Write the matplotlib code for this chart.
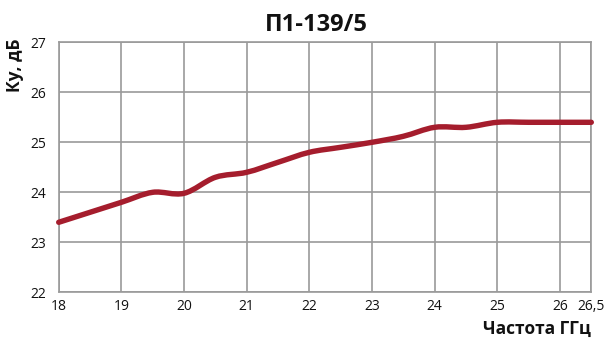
import matplotlib
matplotlib.use("Agg")
import matplotlib.pyplot as plt
from matplotlib.path import Path
from matplotlib.patches import PathPatch

# Gain vs frequency for П1-139/5
freq_ghz = [18, 18.5, 19, 19.5, 20, 20.5, 21, 21.5, 22, 22.5, 23, 23.5, 24, 24.5, 25, 25.5, 26, 26.5]
gain_db = [23.4, 23.6, 23.8, 24.0, 23.98, 24.3, 24.4, 24.6, 24.8, 24.9, 25.0, 25.12, 25.3, 25.3, 25.4, 25.4, 25.4, 25.4]

x_ticks = [18, 19, 20, 21, 22, 23, 24, 25, 26, 26.5]
x_tick_labels = ["18", "19", "20", "21", "22", "23", "24", "25", "26", "26,5"]
y_ticks = [22, 23, 24, 25, 26, 27]
y_tick_labels = ["22", "23", "24", "25", "26", "27"]

plt.rcParams["font.family"] = ["Open Sans", "DejaVu Sans"]
heading_font = ["Liberation Sans Narrow", "Open Sans", "DejaVu Sans"]


def smooth_path(xs, ys, tension=1 / 6):
    """Catmull-Rom spline through the points, expressed as cubic Bezier segments."""
    pts = list(zip(xs, ys))
    verts = [pts[0]]
    codes = [Path.MOVETO]
    n = len(pts)
    for i in range(n - 1):
        p0 = pts[i - 1] if i > 0 else pts[i]
        p1 = pts[i]
        p2 = pts[i + 1]
        p3 = pts[i + 2] if i + 2 < n else pts[i + 1]
        c1 = (p1[0] + (p2[0] - p0[0]) * tension, p1[1] + (p2[1] - p0[1]) * tension)
        c2 = (p2[0] - (p3[0] - p1[0]) * tension, p2[1] - (p3[1] - p1[1]) * tension)
        verts += [c1, c2, p2]
        codes += [Path.CURVE4] * 3
    return Path(verts, codes)


W, H = 607, 338
fig = plt.figure(figsize=(W / 100, H / 100), dpi=100)
ax = fig.add_axes([58.7 / W, (H - 292.3) / H, (591.3 - 58.7) / W, (292.3 - 42.3) / H])

grid_col = "#9a9a9a"
ax.set_xlim(18, 26.5)
ax.set_ylim(22, 27)
ax.set_xticks(x_ticks)
ax.set_xticklabels(x_tick_labels)
ax.set_yticks(y_ticks)
ax.set_yticklabels(y_tick_labels)
ax.grid(True, color=grid_col, linewidth=1.2)
ax.set_axisbelow(True)
for s in ax.spines.values():
    s.set_color(grid_col)
    s.set_linewidth(1.2)
ax.tick_params(length=0, labelsize=10, colors="#111111")
ax.tick_params(axis="y", pad=9)
ax.tick_params(axis="x", pad=5)

curve = PathPatch(smooth_path(freq_ghz, gain_db), facecolor="none", edgecolor="#a51d2d",
                  linewidth=3.9, capstyle="round", joinstyle="round", clip_on=False, zorder=3)
ax.add_patch(curve)

fig.text(316 / W, (H - 25) / H, "П1-139/5", ha="center", va="center", family=heading_font,
         fontsize=17, fontweight="bold", color="#111111")
fig.text(15 / W, (H - 65) / H, "Ку, дБ", rotation=90, ha="center", va="center",
         family=heading_font, fontsize=12.5, fontweight="bold", color="#111111")
fig.text(591 / W, (H - 329) / H, "Частота ГГц", ha="right", va="center",
         family=heading_font, fontsize=12.5, fontweight="bold", color="#111111")

fig.savefig("out.png", dpi=100)
